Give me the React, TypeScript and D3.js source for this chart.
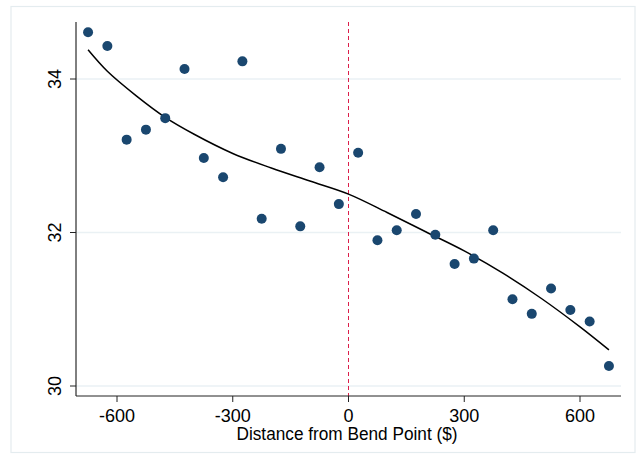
import React from "react";
import * as d3 from "d3";

const binCenters = [-675,-625,-575,-525,-475,-425,-375,-325,-275,-225,-175,-125,-75,-25,25,75,125,175,225,275,325,375,425,475,525,575,625,675];
const binMeans = [34.61,34.43,33.21,33.34,33.49,34.13,32.97,32.72,34.23,32.18,33.09,32.08,32.85,32.37,33.04,31.90,32.03,32.24,31.97,31.59,31.66,32.03,31.13,30.94,31.27,30.99,30.84,30.26];
const fitX = [-675,-625,-550,-475,-400,-300,-200,-100,0,100,200,300,400,500,600,675];
const fitY = [34.38,34.10,33.78,33.50,33.28,33.03,32.84,32.67,32.50,32.26,32.01,31.76,31.47,31.14,30.77,30.47];
const xTicks = [-600,-300,0,300,600];
const yTicks = [30,32,34];
const xTitle = "Distance from Bend Point ($)";
const bendPoint = 0;

const W = 642, H = 458;
const font = "'Liberation Sans', Arial, Helvetica, sans-serif";

export default function App() {
  const x = d3.scaleLinear().domain([-600, 600]).range([117, 580]);
  const y = d3.scaleLinear().domain([30, 34]).range([386, 79]);
  const left = 76, right = 621, top = 22, bottom = 396;
  const fit = fitX.map((v, i) => [v, fitY[i]] as [number, number]);
  const line = d3.line<[number, number]>().x(d => x(d[0])).y(d => y(d[1])).curve(d3.curveCatmullRom.alpha(0.5));
  return (
    <svg width={W} height={H} style={{ position: "absolute", left: 0, top: 0, background: "#fff" }} fontFamily={font}>
      <rect x={0} y={0} width={W} height={H} fill="#fff" />
      <rect x={11} y={6.5} width={624} height={446} fill="none" stroke="#e4ecef" strokeWidth={1.2} />
      {yTicks.map(t => (
        <line key={"g" + t} x1={left} x2={right} y1={y(t)} y2={y(t)} stroke="#eaf1f4" strokeWidth={1.5} />
      ))}
      <line x1={x(bendPoint)} x2={x(bendPoint)} y1={top} y2={bottom} stroke="#dc1e4a" strokeWidth={1} strokeDasharray="4,3" />
      <path d={line(fit) || ""} fill="none" stroke="#000" strokeWidth={1.5} />
      {binCenters.map((v, i) => (
        <circle key={i} cx={x(v)} cy={y(binMeans[i])} r={5} fill="#1a476f" />
      ))}
      <line x1={left} x2={left} y1={top} y2={bottom} stroke="#000" strokeWidth={1} />
      <line x1={left} x2={right} y1={bottom} y2={bottom} stroke="#222" strokeWidth={1} />
      {yTicks.map(t => (
        <g key={"y" + t}>
          <line x1={left - 6} x2={left} y1={y(t)} y2={y(t)} stroke="#222" strokeWidth={1} />
          <text transform={`translate(61,${y(t)}) rotate(-90)`} textAnchor="middle" fontSize={18} fill="#000">{t}</text>
        </g>
      ))}
      {xTicks.map(t => (
        <g key={"x" + t}>
          <line x1={x(t)} x2={x(t)} y1={bottom} y2={bottom + 6} stroke="#222" strokeWidth={1} />
          <text x={x(t)} y={421.5} textAnchor="middle" fontSize={18} fill="#000">{t}</text>
        </g>
      ))}
      <text x={347} y={440} textAnchor="middle" fontSize={17.5} fill="#000" textLength={221} lengthAdjust="spacingAndGlyphs">{xTitle}</text>
    </svg>
  );
}
